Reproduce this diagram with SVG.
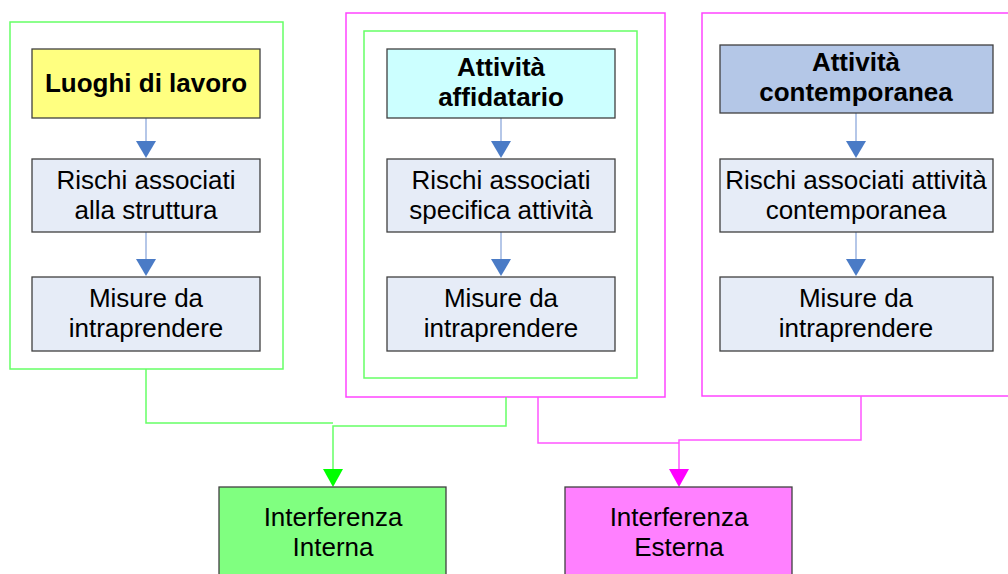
<svg xmlns="http://www.w3.org/2000/svg" width="1008" height="574" viewBox="0 0 1008 574">
<style>
text{font-family:"Liberation Sans",Arial,sans-serif;font-size:26px;fill:#000;text-anchor:middle}
.b{font-weight:bold}
.box{stroke:#404040;stroke-width:1.3}
.step{fill:#E6ECF7}
.fg{fill:none;stroke:#66FF66;stroke-width:1.5}
.fm{fill:none;stroke:#FF44FF;stroke-width:1.5}
.bl{stroke:#9DB5E0;stroke-width:1.5;fill:none}
.ah{fill:#4A7BC6}
.cg{fill:none;stroke:#66FF66;stroke-width:1.5}
.cm{fill:none;stroke:#FF55FF;stroke-width:1.5}
</style>
<rect width="1008" height="574" fill="#fff"/>
<g id="frames">
<rect class="fg" x="10" y="22" width="273" height="347"/>
<rect class="fm" x="346" y="13" width="319" height="384"/>
<rect class="fg" x="364" y="31" width="273" height="347"/>
<rect class="fm" x="702" y="13" width="320" height="383"/>
</g>
<g id="connectors">
<line class="bl" x1="146" y1="118" x2="146" y2="143"/><polygon class="ah" points="136,141 156,141 146,158"/>
<line class="bl" x1="146" y1="232" x2="146" y2="261"/><polygon class="ah" points="136,259 156,259 146,276"/>
<line class="bl" x1="501" y1="118" x2="501" y2="143"/><polygon class="ah" points="491,141 511,141 501,158"/>
<line class="bl" x1="501" y1="232" x2="501" y2="261"/><polygon class="ah" points="491,259 511,259 501,276"/>
<line class="bl" x1="856" y1="113" x2="856" y2="143"/><polygon class="ah" points="846,141 866,141 856,158"/>
<line class="bl" x1="856" y1="232" x2="856" y2="261"/><polygon class="ah" points="846,259 866,259 856,276"/>
<polyline class="cg" points="146,369 146,423 333,423"/>
<polyline class="cg" points="506,397 506,426 333,426 333,472"/>
<polygon fill="#00FF00" points="323,469 343,469 333,487"/>
<polyline class="cm" points="538,397 538,443 679,443"/>
<polyline class="cm" points="861,396 861,440 679,440 679,472"/>
<polygon fill="#FF00FF" points="669,469 689,469 679,487"/>
</g>
<g id="luoghi"><rect class="box" x="32" y="49" width="228" height="69" fill="#FFFF80"/><text class="b" x="146" y="92">Luoghi di lavoro</text></g>
<g id="rischi-struttura"><rect class="box step" x="32" y="159" width="228" height="73"/><text x="146" y="189">Rischi associati</text><text x="146" y="219">alla struttura</text></g>
<g id="misure-1"><rect class="box step" x="32" y="277" width="228" height="74"/><text x="146" y="307">Misure da</text><text x="146" y="337">intraprendere</text></g>
<g id="affidatario"><rect class="box" x="387" y="49" width="228" height="69" fill="#CCFFFF"/><text class="b" x="501" y="76">Attività</text><text class="b" x="501" y="106">affidatario</text></g>
<g id="rischi-specifica"><rect class="box step" x="387" y="159" width="228" height="73"/><text x="501" y="189">Rischi associati</text><text x="501" y="219">specifica attività</text></g>
<g id="misure-2"><rect class="box step" x="387" y="277" width="228" height="74"/><text x="501" y="307">Misure da</text><text x="501" y="337">intraprendere</text></g>
<g id="contemporanea"><rect class="box" x="720" y="45" width="273" height="68" fill="#B4C7E7"/><text class="b" x="856" y="71">Attività</text><text class="b" x="856" y="101">contemporanea</text></g>
<g id="rischi-contemporanea"><rect class="box step" x="720" y="159" width="273" height="73"/><text x="856" y="189">Rischi associati attività</text><text x="856" y="219">contemporanea</text></g>
<g id="misure-3"><rect class="box step" x="720" y="277" width="273" height="74"/><text x="856" y="307">Misure da</text><text x="856" y="337">intraprendere</text></g>
<g id="interna"><rect class="box" x="219" y="487" width="227" height="100" fill="#80FF80"/><text x="333" y="526">Interferenza</text><text x="333" y="556">Interna</text></g>
<g id="esterna"><rect class="box" x="565" y="487" width="227" height="100" fill="#FF80FF"/><text x="679" y="526">Interferenza</text><text x="679" y="556">Esterna</text></g>
</svg>
